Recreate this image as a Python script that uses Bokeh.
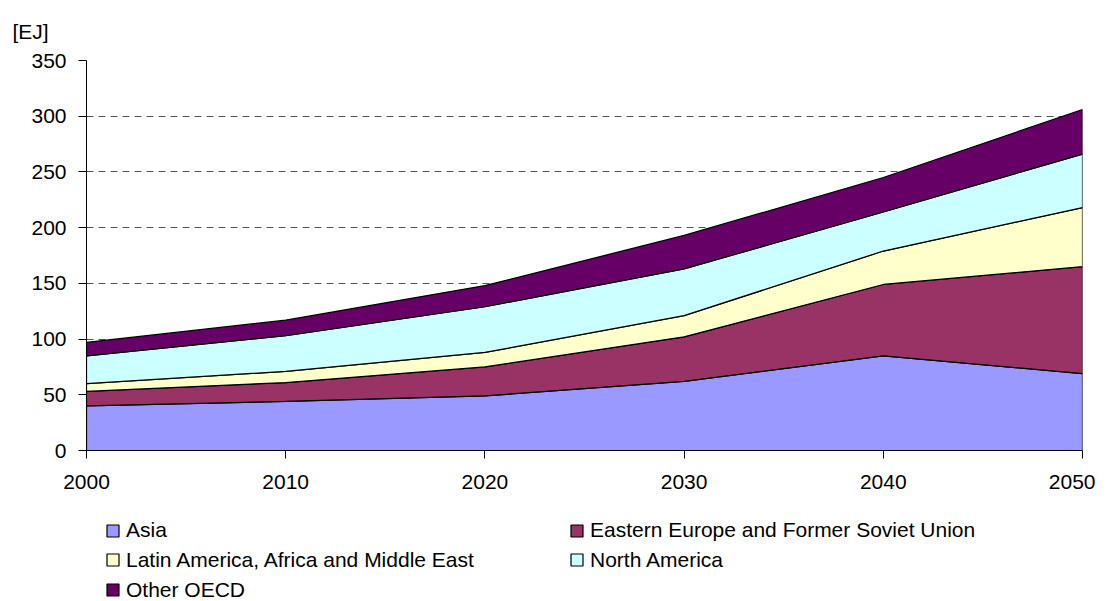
from bokeh.plotting import figure
from bokeh.models import Range1d, FixedTicker, Legend, LegendItem
from bokeh.layouts import column
from bokeh.embed import file_html
from bokeh.resources import INLINE

years = [2000, 2010, 2020, 2030, 2040, 2050]
asia = [40, 44, 49, 62, 85, 69]
eastern_europe_fsu = [13, 17, 26, 40, 64, 96]
latin_america_africa_me = [7, 10, 13, 19, 30, 53]
north_america = [25, 32, 41, 42, 35, 48]
other_oecd = [12, 14, 19, 30, 31, 40]

series_names = ["Asia", "Eastern Europe and Former Soviet Union",
                "Latin America, Africa and Middle East", "North America", "Other OECD"]
series_values = [asia, eastern_europe_fsu, latin_america_africa_me, north_america, other_oecd]
colors = ["#9999FF", "#993366", "#FFFFCC", "#CCFFFF", "#660066"]

y_ticks = [0, 50, 100, 150, 200, 250, 300, 350]
x_ticks = [2000, 2010, 2020, 2030, 2040, 2050]

FONT = "Liberation Sans"
FS = "21px"

# ---------------- main chart ----------------
p = figure(width=1095, height=500, output_backend="svg", toolbar_location=None,
           x_range=Range1d(2000, 2050), y_range=Range1d(0, 350),
           min_border_left=86, min_border_right=13, min_border_top=60, min_border_bottom=50,
           title="[EJ]")
p.outline_line_color = None
p.background_fill_color = "white"
p.border_fill_color = "white"

p.title.align = "left"
p.title.offset = -74
p.title.standoff = 35
p.title.text_font = FONT
p.title.text_font_size = FS
p.title.text_font_style = "normal"
p.title.text_color = "black"

p.xgrid.grid_line_color = None
p.ygrid.ticker = FixedTicker(ticks=y_ticks[1:])
p.ygrid.grid_line_color = "#555555"
p.ygrid.grid_line_dash = "7 5"
p.ygrid.grid_line_width = 1

for ax, ticks in ((p.xaxis[0], x_ticks), (p.yaxis[0], y_ticks)):
    ax.ticker = FixedTicker(ticks=ticks)
    ax.axis_line_color = "black"
    ax.axis_line_width = 1
    ax.major_tick_line_color = "black"
    ax.major_tick_in = 0
    ax.major_tick_out = 8
    ax.minor_tick_line_color = None
    ax.major_label_text_font = FONT
    ax.major_label_text_font_size = FS
    ax.major_label_text_color = "black"
p.yaxis[0].major_label_standoff = 12
p.xaxis[0].major_label_standoff = 16


def stacked_polygons():
    lower = [0] * len(years)
    out = []
    for vals in series_values:
        upper = [a + b for a, b in zip(lower, vals)]
        out.append((years + years[::-1], upper + lower[::-1]))
        lower = upper
    return out


polys = stacked_polygons()
for (xs, ys), col in zip(polys, colors):
    p.patch(xs, ys, fill_color=col, line_color="black", line_width=1.2)

# ---------------- legend strip below ----------------
leg = figure(width=1095, height=101, output_backend="svg", toolbar_location=None,
             x_range=Range1d(0, 1), y_range=Range1d(0, 1),
             x_axis_location=None, y_axis_location=None, min_border=0)
leg.outline_line_color = None
leg.grid.grid_line_color = None
leg.background_fill_color = "white"
leg.border_fill_color = "white"

# same series glyphs (outside this strip's visible range) provide the legend swatches
leg_renderers = []
for (xs, ys), col in zip(polys, colors):
    leg_renderers.append(leg.patch(xs, ys, fill_color=col, line_color="black", line_width=1.2))

# (left px relative to the plot frame, top px of item) following the reference layout
legend_slots = [(19, 18), (483, 18), (19, 47.5), (483, 47.5), (19, 77.5)]
ITEM_H = 24
for name, r, (lx, top) in zip(series_names, leg_renderers, legend_slots):
    lg = Legend(items=[LegendItem(label=name, renderers=[r])],
                location=(lx, 101 - top - ITEM_H), orientation="vertical",
                glyph_width=15, glyph_height=15, label_height=ITEM_H,
                label_standoff=6, spacing=0, padding=0, margin=0,
                border_line_color=None, background_fill_alpha=0,
                label_text_font=FONT, label_text_font_size=FS, label_text_color="black")
    leg.add_layout(lg)

layout = column(p, leg, spacing=0)
open("out.html", "w").write(file_html(layout, INLINE))
